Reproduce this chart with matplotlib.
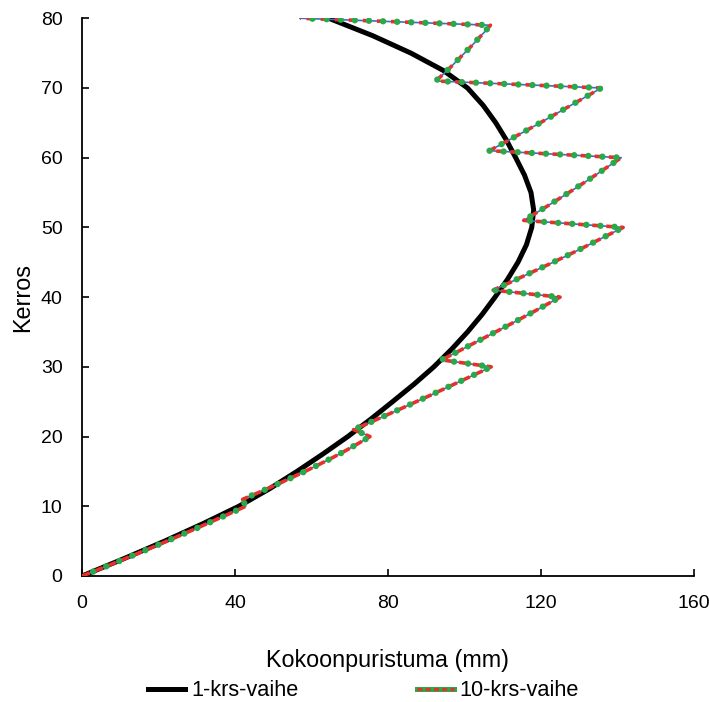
import matplotlib
matplotlib.use("Agg")
import matplotlib.pyplot as plt
from matplotlib.lines import Line2D

plt.rcParams["font.family"] = ["Liberation Sans", "DejaVu Sans"]

# 1-krs-vaihe (one-floor phases): smooth curve
floors_1 = [0, 2.5, 5, 7.5, 10, 12.5, 15, 17.5, 20, 22.5, 25, 27.5, 30, 32.5, 35, 37.5,
            40, 42.5, 45, 47.5, 50, 52.5, 55, 57.5, 60, 62.5, 65, 67.5, 70, 72.5, 75,
            77.5, 80]
short_1 = [0, 11.0, 21.6, 31.6, 41.0, 49.0, 56.2, 63.0, 69.5, 75.5, 81.2, 86.8, 92.0,
           96.6, 100.8, 104.6, 108.0, 111.2, 114.0, 116.2, 117.6, 118.1, 117.4, 115.7,
           113.4, 111.0, 108.2, 104.9, 100.8, 94.5, 86.0, 76.0, 64.5]

# 10-krs-vaihe (ten-floor phases): value per floor 0..80
floors_10 = list(range(0, 81))
short_10 = [
    0, 4.6, 9.1, 13.5, 17.9, 22.2, 26.4, 30.6, 34.7, 38.8, 42.8,
    42.0, 46.3, 50.4, 54.4, 58.3, 62.0, 65.6, 69.0, 72.2, 75.3,
    71.0, 75.2, 79.3, 83.4, 87.4, 91.4, 95.3, 99.2, 103.1, 107.0,
    94.0, 97.6, 101.1, 104.6, 108.1, 111.6, 115.0, 118.4, 121.7, 125.0,
    107.5, 111.5, 115.4, 119.3, 123.2, 127.0, 130.7, 134.3, 137.9, 141.5,
    115.5, 118.5, 121.5, 124.4, 127.3, 130.1, 132.9, 135.6, 138.3, 141.0,
    106.5, 109.9, 113.2, 116.5, 119.8, 123.0, 126.2, 129.4, 132.6, 135.8,
    92.5, 94.5, 96.4, 98.2, 100.0, 101.8, 103.5, 105.2, 106.8, 57.0,
]

x_ticks = [0, 40, 80, 120, 160]
y_ticks = [0, 10, 20, 30, 40, 50, 60, 70, 80]

fig = plt.figure(figsize=(7.09, 7.02), dpi=100)
ax = fig.add_axes([0.1157, 0.1795, 0.863, 0.7945])

ax.plot(short_1, floors_1, color="black", lw=3.6, solid_capstyle="butt",
        solid_joinstyle="round", zorder=2)

# 10-krs: thin blue base, red dashes, green dots
ax.plot(short_10, floors_10, color="#3a6fc4", lw=1.2, zorder=3)
ax.plot(short_10, floors_10, color="#e8302a", lw=2.6, linestyle=(0, (2.3, 1.6)), zorder=4)
ax.plot(short_10, floors_10, color="#2aa84a", lw=4.6, linestyle=(0.35, (0.01, 2.2)),
        dash_capstyle="round", zorder=5)

ax.set_xlim(0, 160)
ax.set_ylim(0, 80)
ax.set_xticks(x_ticks)
ax.set_yticks(y_ticks)
ax.tick_params(direction="in", length=5, width=1.2, labelsize=14, pad=14)
for side in ["top", "right"]:
    ax.spines[side].set_visible(False)
for side in ["left", "bottom"]:
    ax.spines[side].set_linewidth(1.3)

ax.set_xlabel("Kokoonpuristuma (mm)", fontsize=16.8, labelpad=26)
ax.set_ylabel("Kerros", fontsize=16.8, labelpad=5)

h1 = Line2D([], [], color="black", lw=3.6)
h2a = Line2D([], [], color="#2aa84a", lw=3.6)
h2b = Line2D([], [], color="#e8302a", lw=2.2, linestyle=(0, (1.6, 1.1)))
fig.legend([h1, (h2a, h2b)], ["1-krs-vaihe", "10-krs-vaihe"], loc="center",
           bbox_to_anchor=(0.513, 0.016), ncol=2, frameon=False, fontsize=15.7,
           handlelength=1.7, handletextpad=0.28, columnspacing=5.4)

fig.savefig("out.png", dpi=100)
